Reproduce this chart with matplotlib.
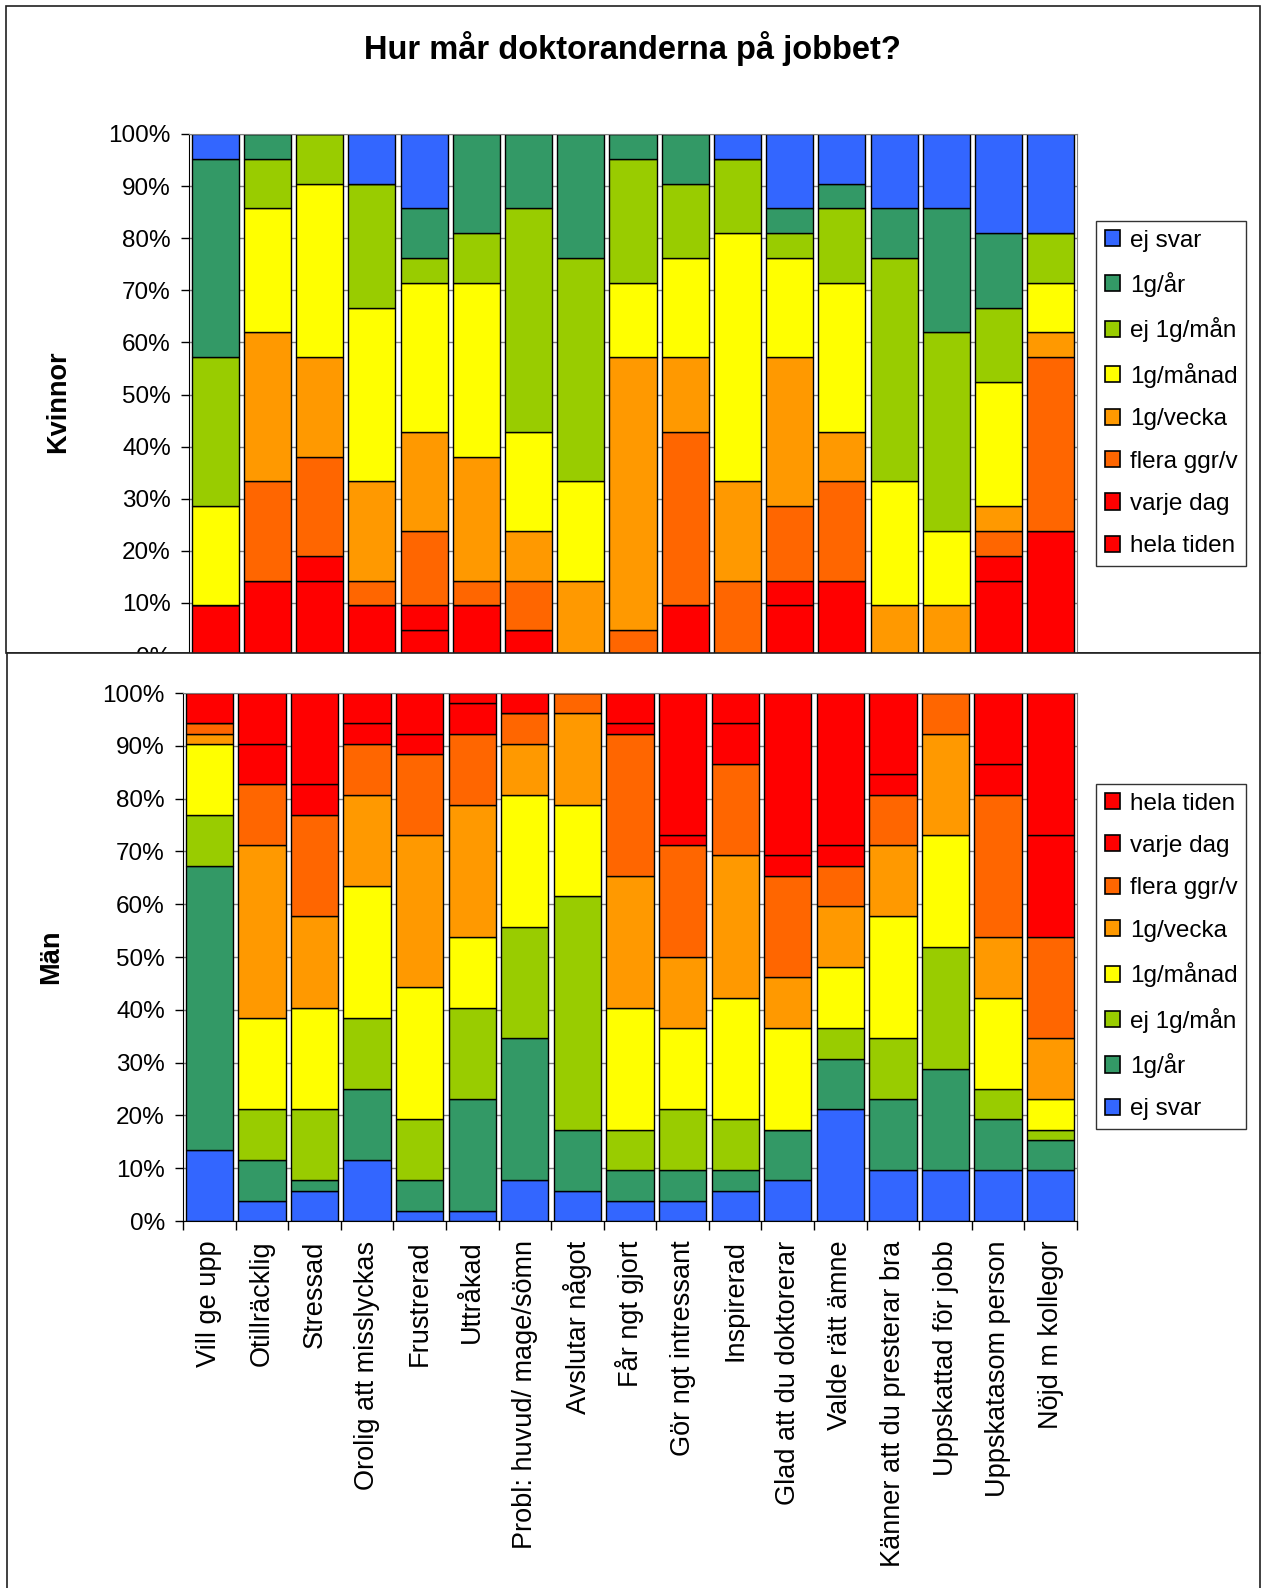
import numpy as np
import matplotlib
matplotlib.use("Agg")
import matplotlib.pyplot as plt
from matplotlib.patches import Patch, Rectangle

plt.rcParams['font.family'] = ['Liberation Sans', 'DejaVu Sans']

categories = ["Vill ge upp", "Otillräcklig", "Stressad", "Orolig att misslyckas",
              "Frustrerad", "Uttråkad", "Probl: huvud/ mage/sömn", "Avslutar något",
              "Får ngt gjort", "Gör ngt intressant", "Inspirerad",
              "Glad att du doktorerar", "Valde rätt ämne", "Känner att du presterar bra",
              "Uppskattad för jobb", "Uppskatasom person", "Nöjd m kollegor"]

answers = ["hela tiden", "varje dag", "flera ggr/v", "1g/vecka",
           "1g/månad", "ej 1g/mån", "1g/år", "ej svar"]
answer_colors = ["#FF0000", "#FF0000", "#FF6600", "#FF9900",
                 "#FFFF00", "#99CC00", "#339966", "#3366FF"]

# Kvinnor (21 svar), antal per svarsalternativ
kv_hela = [2, 3, 3, 2, 1, 2, 1, 0, 0, 2, 0, 2, 3, 0, 0, 3, 5]
kv_varje = [0, 0, 1, 0, 1, 0, 0, 0, 0, 0, 0, 1, 0, 0, 0, 1, 0]
kv_flera = [0, 4, 4, 1, 3, 1, 2, 0, 1, 7, 3, 3, 4, 0, 0, 1, 7]
kv_vecka = [0, 6, 4, 4, 4, 5, 2, 3, 11, 3, 4, 6, 2, 2, 2, 1, 1]
kv_manad = [4, 5, 7, 7, 6, 7, 4, 4, 3, 4, 10, 4, 6, 5, 3, 5, 2]
kv_ej_man = [6, 2, 2, 5, 1, 2, 9, 9, 5, 3, 3, 1, 3, 9, 8, 3, 2]
kv_ar = [8, 1, 0, 0, 2, 4, 3, 5, 1, 2, 0, 1, 1, 2, 5, 3, 0]
kv_ej_svar = [1, 0, 0, 2, 3, 0, 0, 0, 0, 0, 1, 3, 2, 3, 3, 4, 4]

# Män (52 svar), antal per svarsalternativ
man_hela = [3, 5, 9, 3, 4, 1, 2, 0, 3, 14, 3, 16, 15, 8, 0, 7, 14]
man_varje = [0, 4, 3, 2, 2, 3, 0, 0, 1, 1, 4, 2, 2, 2, 0, 3, 10]
man_flera = [1, 6, 10, 5, 8, 7, 3, 2, 14, 11, 9, 10, 4, 5, 4, 14, 10]
man_vecka = [1, 17, 9, 9, 15, 13, 5, 9, 13, 7, 14, 5, 6, 7, 10, 6, 6]
man_manad = [7, 9, 10, 13, 13, 7, 13, 9, 12, 8, 12, 10, 6, 12, 11, 9, 3]
man_ej_man = [5, 5, 7, 7, 6, 9, 11, 23, 4, 6, 5, 0, 3, 6, 12, 3, 1]
man_ar = [28, 4, 1, 7, 3, 11, 14, 6, 3, 3, 2, 5, 5, 7, 10, 5, 3]
man_ej_svar = [7, 2, 3, 6, 1, 1, 4, 3, 2, 2, 3, 4, 11, 5, 5, 5, 5]

W, H = 1264, 1588


def fx(px):
    return px / W


def fy(px):
    return 1 - px / H


def stacked_percent(ax, layers, names, colors):
    x = np.arange(len(categories))
    totals = np.sum(np.array(layers), axis=0)
    bottom = np.zeros(len(x))
    for vals, name, col in zip(layers, names, colors):
        pct = np.array(vals) / totals * 100
        ax.bar(x, pct, 0.9, bottom=bottom, color=col, edgecolor='black',
               linewidth=1.0, label=name, zorder=2)
        bottom += pct


def style_axes(ax, show_labels):
    ax.set_xlim(-0.5, len(categories) - 0.5)
    ax.set_ylim(0, 100)
    ax.set_yticks(np.arange(0, 101, 10))
    ax.set_yticklabels([f"{v}%" for v in range(0, 101, 10)], fontsize=17.5)
    ax.tick_params(axis='y', direction='out', length=6, width=1, pad=7)
    ax.yaxis.grid(True, color='#808080', linewidth=1)
    ax.set_axisbelow(True)
    ax.set_xticks(np.arange(len(categories)))
    ax.set_xticks(np.arange(len(categories) + 1) - 0.5, minor=True)
    ax.tick_params(axis='x', which='major', length=0, pad=14)
    ax.tick_params(axis='x', which='minor', direction='out', length=6.5, width=1)
    if show_labels:
        ax.set_xticklabels(categories, rotation=90, fontsize=19.5,
                           ha='center', va='top')
    else:
        ax.set_xticklabels([])
    ax.spines['left'].set_color('black')
    ax.spines['bottom'].set_color('black')
    ax.spines['right'].set_color('#808080')
    ax.spines['top'].set_color('#808080')


def add_legend(fig, ax, names, colors, top_px):
    handles = [Patch(facecolor=c, edgecolor='black', linewidth=1.2, label=n)
               for n, c in zip(names, colors)]
    leg = ax.legend(handles=handles, loc='upper left',
                    bbox_to_anchor=(fx(1096), fy(top_px)),
                    bbox_transform=fig.transFigure, borderaxespad=0,
                    fontsize=17.5, frameon=True, fancybox=False,
                    handlelength=0.65, handleheight=0.65, handletextpad=0.4,
                    labelspacing=0.84, borderpad=0.35)
    leg.get_frame().set_edgecolor('black')
    leg.get_frame().set_linewidth(1.0)


fig = plt.figure(figsize=(W / 100, H / 100), dpi=100)

# outer frame of the upper panel
fig.add_artist(Rectangle((fx(6), fy(653)), fx(1260) - fx(6), fy(6) - fy(653),
                         transform=fig.transFigure, facecolor='white',
                         edgecolor='#202020', linewidth=1.2, zorder=-1))

# Kvinnor
ax1 = fig.add_axes([fx(189), fy(655), fx(1077) - fx(189), fy(134) - fy(655)])
ax1.set_zorder(0)
kv_layers = [kv_hela, kv_varje, kv_flera, kv_vecka, kv_manad, kv_ej_man, kv_ar, kv_ej_svar]
stacked_percent(ax1, kv_layers, answers, answer_colors)
style_axes(ax1, show_labels=False)
add_legend(fig, ax1, answers[::-1], answer_colors[::-1], 221)

# lower panel frame sits on top of the upper chart's base
fig.add_artist(Rectangle((fx(7), fy(1600)), fx(1260) - fx(7), fy(653) - fy(1600),
                         transform=fig.transFigure, facecolor='white',
                         edgecolor='#202020', linewidth=1.2, zorder=1))

# Män
ax2 = fig.add_axes([fx(183), fy(1221), fx(1077) - fx(183), fy(693) - fy(1221)])
ax2.set_zorder(2)
man_layers = [man_ej_svar, man_ar, man_ej_man, man_manad, man_vecka, man_flera, man_varje, man_hela]
stacked_percent(ax2, man_layers, answers[::-1], answer_colors[::-1])
style_axes(ax2, show_labels=True)
add_legend(fig, ax2, answers, answer_colors, 784)

fig.text(0.5, fy(49), "Hur mår doktoranderna på jobbet?", ha='center', va='center',
         fontsize=23.5, fontweight='bold')
fig.text(fx(58), fy(402), "Kvinnor", rotation=90, ha='center', va='center',
         fontsize=19.5, fontweight='bold')
fig.text(fx(51), fy(957), "Män", rotation=90, ha='center', va='center',
         fontsize=19.5, fontweight='bold', zorder=3)

fig.savefig("out.png", dpi=100)
